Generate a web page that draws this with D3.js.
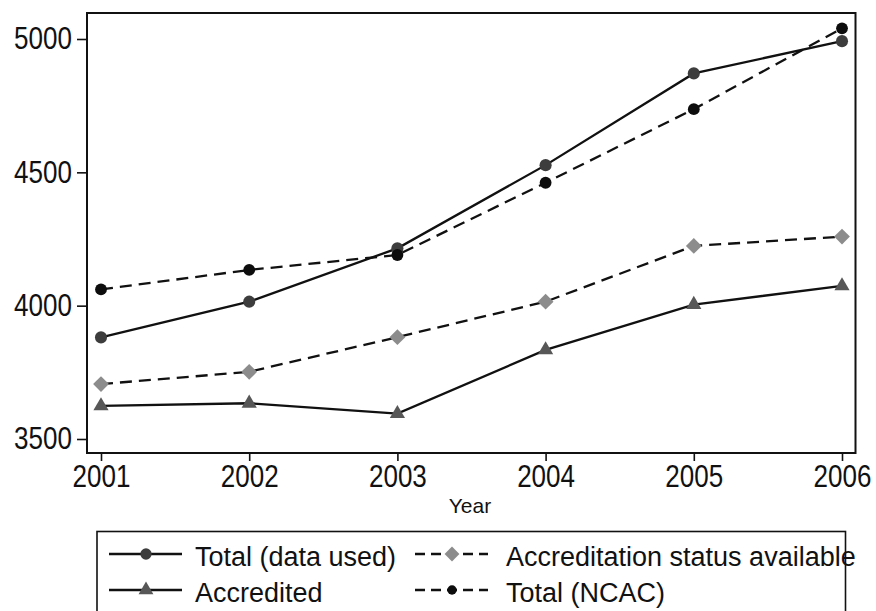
<!DOCTYPE html>
<html>
<head>
<meta charset="utf-8">
<script src="https://cdn.jsdelivr.net/npm/d3@7"></script>
<style>
  html, body { margin: 0; padding: 0; background: #fff; }
  svg { display: block; }
  .tick text { font-family: "Liberation Sans", Arial, sans-serif; font-size: 31px; fill: #111; }
  .leg text { font-family: "Liberation Sans", Arial, sans-serif; font-size: 27px; fill: #111; }
</style>
</head>
<body>
<svg id="chart" width="876" height="611"></svg>
<script>
// ---- data ----
const years = [2001, 2002, 2003, 2004, 2005, 2006];
const yTicks = [3500, 4000, 4500, 5000];
const totalUsed   = [3881, 4015, 4215, 4527, 4871, 4992];
const accredited  = [3624, 3634, 3595, 3834, 4004, 4074];
const accredAvail = [3706, 3752, 3882, 4015, 4224, 4259];
const totalNCAC   = [4061, 4134, 4190, 4461, 4737, 5040];
const legendLabels = ["Total (data used)", "Accredited", "Accreditation status available", "Total (NCAC)"];
const xTitle = "Year";

const svg = d3.select("#chart");
const W = 876, H = 611;
svg.append("rect").attr("width", W).attr("height", H).attr("fill", "#fff");

// plot frame
const frame = { left: 87, top: 13, right: 855.5, bottom: 453 };
const x = d3.scaleLinear().domain([2001, 2006]).range([101, 842]);
const y = d3.scaleLinear().domain([3500, 5000]).range([439, 39]);
const narrow = 0.84;

// axes
const gy = svg.append("g").attr("transform", `translate(${frame.left},0)`)
  .call(d3.axisLeft(y).tickValues(yTicks).tickSize(10).tickPadding(5).tickFormat(d3.format("d")));
gy.select(".domain").remove();
gy.selectAll(".tick line").attr("stroke", "#111").attr("stroke-width", 1.6);
gy.selectAll(".tick text").attr("x", -15 / narrow).attr("transform", `scale(${narrow},1)`);

const gx = svg.append("g").attr("transform", `translate(0,${frame.bottom})`)
  .call(d3.axisBottom(x).tickValues(years).tickSize(8).tickPadding(4.5).tickFormat(d3.format("d")));
gx.select(".domain").remove();
gx.selectAll(".tick line").attr("stroke", "#111").attr("stroke-width", 1.6);
gx.selectAll(".tick text").attr("transform", `scale(${narrow},1)`);

svg.append("rect")
  .attr("x", frame.left).attr("y", frame.top)
  .attr("width", frame.right - frame.left).attr("height", frame.bottom - frame.top)
  .attr("fill", "none").attr("stroke", "#111").attr("stroke-width", 2);

svg.append("text").attr("x", 470).attr("y", 513)
  .attr("text-anchor", "middle")
  .attr("font-family", "Liberation Sans, Arial, sans-serif")
  .attr("font-size", 21).attr("fill", "#111").text(xTitle);

// rotated-square diamond like the reference
const diamond = {
  draw(ctx, size) {
    const r = Math.sqrt(size / 2);
    ctx.moveTo(0, -r); ctx.lineTo(r, 0); ctx.lineTo(0, r); ctx.lineTo(-r, 0); ctx.closePath();
  }
};

// series
const series = [
  { name: legendLabels[0], values: totalUsed,   dash: null,    sym: d3.symbolCircle,   size: 115, fill: "#3d3d3d" },
  { name: legendLabels[1], values: accredited,  dash: null,    sym: d3.symbolTriangle, size: 100, fill: "#575757" },
  { name: legendLabels[2], values: accredAvail, dash: "12,7",  sym: diamond,           size: 125, fill: "#8c8c8c" },
  { name: legendLabels[3], values: totalNCAC,   dash: "12,7",  sym: d3.symbolCircle,   size: 110, fill: "#0d0d0d" }
];

const line = d3.line().x((d, i) => x(years[i])).y(d => y(d));

series.forEach(s => {
  svg.append("path")
    .attr("d", line(s.values))
    .attr("fill", "none").attr("stroke", "#111").attr("stroke-width", 2.3)
    .attr("stroke-dasharray", s.dash);
  svg.append("g").selectAll("path").data(s.values).join("path")
    .attr("transform", (d, i) => `translate(${x(years[i])},${y(d)})`)
    .attr("d", d3.symbol().type(s.sym).size(s.size)())
    .attr("fill", s.fill);
});

// legend
const leg = svg.append("g").attr("class", "leg");
leg.append("rect").attr("x", 97).attr("y", 531.5).attr("width", 748.5).attr("height", 120)
  .attr("fill", "none").attr("stroke", "#111").attr("stroke-width", 1.6);

const legPos = [
  { sx: 109, tx: 195, ty: 566, my: 554 },
  { sx: 109, tx: 195, ty: 602, my: 590 },
  { sx: 415, tx: 506, ty: 566, my: 554 },
  { sx: 415, tx: 506, ty: 602, my: 590 }
];
const legSizes = [100, 95, 110, 70];
series.forEach((s, i) => {
  const p = legPos[i];
  leg.append("line").attr("x1", p.sx).attr("x2", p.sx + 73).attr("y1", p.my).attr("y2", p.my)
    .attr("stroke", "#111").attr("stroke-width", 2.4).attr("stroke-dasharray", s.dash ? "10,6" : null);
  leg.append("path").attr("transform", `translate(${p.sx + 37},${p.my})`)
    .attr("d", d3.symbol().type(s.sym).size(legSizes[i])()).attr("fill", s.fill);
  leg.append("text").attr("x", p.tx).attr("y", p.ty).text(s.name);
});
</script>
</body>
</html>
